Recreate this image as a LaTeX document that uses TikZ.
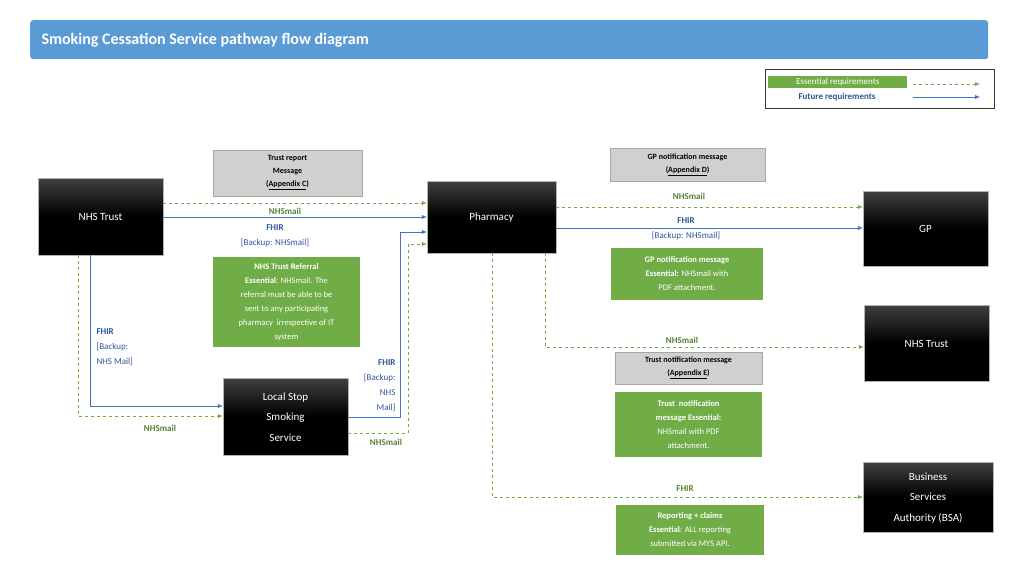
\documentclass[tikz,border=0pt]{standalone}
\usepackage{fontspec}
\setmainfont{Carlito}
\usetikzlibrary{arrows.meta}
\definecolor{tbar}{HTML}{5B9BD5}
\definecolor{gbox}{HTML}{70AD47}
\definecolor{gtxt}{HTML}{548235}
\definecolor{bline}{HTML}{4472C4}
\definecolor{btxt}{HTML}{2F5597}
\definecolor{gray1}{HTML}{D0D0D0}
\begin{document}
\begin{tikzpicture}[x=1pt,y=-1pt,
 blk/.style={draw=gray!60,top color=black!75,bottom color=black,middle color=black,text=white,font=\fontsize{15}{18}\selectfont,align=center,inner sep=0pt},
 gry/.style={draw=gray!70,fill=gray1,font=\bfseries\fontsize{8}{13}\selectfont,align=center,inner sep=0pt},
 grn/.style={fill=gbox,text=white,font=\fontsize{8.5}{14}\selectfont,align=center,inner sep=0pt},
 ess/.style={draw=gbox,dashed,-{Latex[length=5pt,width=4pt]}},
 fut/.style={draw=bline,-{Latex[length=5pt,width=4pt]}},
 gl/.style={text=gtxt,font=\bfseries\fontsize{9}{11}\selectfont},
 bl/.style={text=btxt,font=\fontsize{9}{15}\selectfont}]
\useasboundingbox (0,0) rectangle (1024,576);
\node[fill=tbar,rounded corners=3pt,minimum width=958pt,minimum height=39pt,anchor=north west,inner sep=0pt] (title) at (30,20) {};
\node[anchor=west,text=white,font=\bfseries\fontsize{16}{18}\selectfont] (tt) at (38,40) {Smoking Cessation Service pathway flow diagram};
% legend
\node[draw=black!80,thick,minimum width=229pt,minimum height=39pt,anchor=north west,inner sep=0pt] (leg) at (765,69) {};
\node[fill=gbox,text=white,minimum width=139pt,minimum height=12pt,inner sep=0pt,font=\fontsize{9}{10}\selectfont,anchor=north west] (le) at (768,76) {Essential requirements};
\node[text=btxt,font=\bfseries\fontsize{9}{10}\selectfont] (lf) at (837,97) {Future requirements};
\coordinate (l1a) at (913,84); \coordinate (l1b) at (980,84);
\coordinate (l2a) at (913,97); \coordinate (l2b) at (980,97);
\draw[ess] (l1a) -- (l1b);
\draw[fut] (l2a) -- (l2b);
% black boxes
\node[blk,minimum width=125pt,minimum height=77pt] (trust) at (100.5,216.5) {};
\node[text=white,font=\fontsize{11}{13}\selectfont] at (100.5,217) {NHS Trust};
\node[blk,minimum width=129pt,minimum height=72pt] (ph) at (491.5,217) {};
\node[text=white,font=\fontsize{11}{13}\selectfont] at (491.5,218) {Pharmacy};
\node[blk,minimum width=125pt,minimum height=75pt] (gp) at (925.5,228.5) {};
\node[text=white,font=\fontsize{11}{13}\selectfont] at (925.5,229) {GP};
\node[blk,minimum width=125pt,minimum height=76pt] (nt2) at (926.5,343) {};
\node[text=white,font=\fontsize{11}{13}\selectfont] at (926.5,344) {NHS Trust};
\node[blk,minimum width=130pt,minimum height=70pt] (bsa) at (928,497) {};
\node[text=white,font=\fontsize{11}{20.5}\selectfont,align=center] at (928,498) {Business\\Services\\Authority (BSA)};
\node[blk,minimum width=125pt,minimum height=77pt] (lss) at (285.5,416.5) {};
\node[text=white,font=\fontsize{11}{20.5}\selectfont,align=center] at (285.5,417) {Local Stop\\Smoking\\Service};
% gray boxes
\node[gry,minimum width=149pt,minimum height=46pt] (tr) at (287.5,173) {Trust report\\Message\\(\underline{Appendix C})};
\node[gry,minimum width=155pt,minimum height=33pt] (gpn) at (687.5,164.5) {GP notification message\\(\underline{Appendix D})};
\node[gry,minimum width=147pt,minimum height=32pt] (tn) at (688.5,368) {Trust notification message\\(\underline{Appendix E})};
% green boxes
\node[grn,minimum width=147pt,minimum height=90pt] (ref) at (286.5,302) {\textbf{NHS Trust Referral}\\\textbf{Essential}: NHSmail. The\\referral must be able to be\\sent to any participating\\pharmacy\ \ irrespective of IT\\system};
\node[grn,minimum width=152pt,minimum height=52pt] (gpg) at (687,274) {\textbf{GP notification message}\\\textbf{Essential:} NHSmail with\\PDF attachment.};
\node[grn,minimum width=147pt,minimum height=65pt] (tng) at (688.5,424.5) {\textbf{Trust\ \ notification}\\\textbf{message Essential:}\\NHSmail with PDF\\attachment.};
\node[grn,minimum width=148pt,minimum height=50pt] (rep) at (690,530) {\textbf{Reporting + claims}\\\textbf{Essential}: ALL reporting\\submitted via MYS API.};
% connectors
\draw[ess] (trust.east |- 0,203) -- (ph.west |- 0,203);
\draw[fut] (trust.east |- 0,217) -- (ph.west |- 0,217);
\node[gl] (l1) at (285,211) {NHSmail};
\node[bl,align=center] (l2) at (275,236) {\textbf{FHIR}\\{}[Backup: NHSmail]};
\draw[fut] (lss.east |- 0,417) -| (400,232) -- (ph.west |- 0,232);
\draw[ess] (lss.east |- 0,433) -| (408,244) -- (ph.west |- 0,244);
\node[bl,align=right,anchor=north east] (l3) at (399,356) {\textbf{FHIR}\\{}[Backup:\\NHS\\Mail]};
\node[gl] (l4) at (386,442) {NHSmail};
\draw[fut] (trust.south -| 90,0) |- (lss.west |- 0,406);
\draw[ess] (trust.south -| 78,0) |- (lss.west |- 0,416);
\node[bl,align=left,anchor=north west] (l5) at (93,325) {\textbf{FHIR}\\{}[Backup:\\NHS Mail]};
\node[gl] (l6) at (160,428) {NHSmail};
\draw[ess] (ph.east |- 0,207) -- (gp.west |- 0,207);
\draw[fut] (ph.east |- 0,228) -- (gp.west |- 0,228);
\node[gl] (l7) at (689,196) {NHSmail};
\node[bl,align=center] (l8) at (686,228.5) {\textbf{FHIR}\\{}[Backup: NHSmail]};
\draw[ess] (ph.south -| 545,0) |- (nt2.west |- 0,347);
\node[gl] (l9) at (682,340) {NHSmail};
\draw[ess] (ph.south -| 492,0) |- (bsa.west |- 0,497);
\node[gl] (l10) at (685,489) {FHIR};
\end{tikzpicture}
\end{document}
